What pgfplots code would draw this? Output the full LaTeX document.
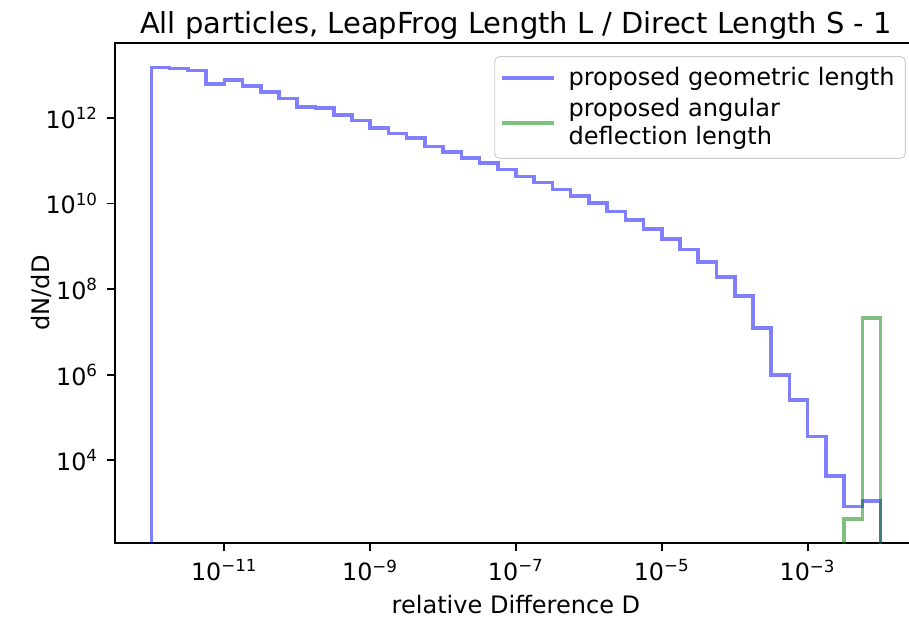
\documentclass[border=0pt]{standalone}
\usepackage{fontspec}
\setmainfont{DejaVu Sans}
\usepackage{pgfplots}
\pgfplotsset{compat=1.18}
\definecolor{mplblue}{rgb}{0,0,1}
\definecolor{mplgreen}{rgb}{0,0.5,0}
\begin{document}
\fontsize{10}{12}\selectfont
\begin{tikzpicture}
\begin{axis}[
  scale only axis,
  width=336.84pt, height=210pt,
  xmode=log, ymode=log,
  xmin=3.162e-13, xmax=3.162e-2,
  ymin=117.5, ymax=5.62e13,
  xtick={1e-11,1e-9,1e-7,1e-5,1e-3},
  xticklabels={10\textsuperscript{−11},10\textsuperscript{−9},10\textsuperscript{−7},10\textsuperscript{−5},10\textsuperscript{−3}},
  ytick={1e4,1e6,1e8,1e10,1e12},
  yticklabels={10\textsuperscript{4},10\textsuperscript{6},10\textsuperscript{8},10\textsuperscript{10},10\textsuperscript{12}},
  xminorticks=false, yminorticks=false,
  xtick pos=left, ytick pos=left,
  tick align=outside,
  major tick length=3.5pt,
  tick style={black, line width=0.8pt},
  axis line style={line width=0.8pt},
  ticklabel style={font=\fontsize{10}{12}\selectfont},
  title={All particles, LeapFrog Length L / Direct Length S - 1},
  every axis title/.style={at={(0.5,1)}, anchor=base, yshift=4.2pt, font=\fontsize{12.15}{14}\selectfont},
  xlabel={relative Difference D},
  every axis x label/.style={at={(0.5,0)}, anchor=base, yshift=-29.4pt, font=\fontsize{10.1}{12}\selectfont},
  ylabel={dN/dD},
  every axis y label/.style={at={(0,0.5)}, xshift=-27.7pt, rotate=90, anchor=base, font=\fontsize{10.1}{12}\selectfont},
  legend cell align=left,
  legend style={at={(1,1)}, anchor=north east, xshift=-4.7pt, yshift=-5.5pt,
    draw=black!20, rounded corners=2pt, fill=white, fill opacity=0.8, text opacity=1,
    inner xsep=2.5pt, inner ysep=2.5pt, row sep=0pt,
    font=\fontsize{10.1}{11.4}\selectfont,
    nodes={inner xsep=2pt},
    cells={align=left}},
  legend image code/.code={\draw[#1, line width=1.5pt] (0pt,0pt) -- (21.5pt,0pt); \path (25pt,0pt);},
]
\addplot[const plot mark left, draw=mplblue, draw opacity=0.5, line width=1.5pt, line join=miter] coordinates {
(1e-12,1) (1e-12,1.51e13) (1.778e-12,1.41e13) (3.162e-12,1.29e13) (5.623e-12,6.17e12)
(1e-11,7.59e12) (1.778e-11,5.62e12) (3.162e-11,4.07e12) (5.623e-11,2.82e12)
(1e-10,1.82e12) (1.778e-10,1.70e12) (3.162e-10,1.17e12) (5.623e-10,8.71e11)
(1e-9,5.89e11) (1.778e-9,4.37e11) (3.162e-9,3.39e11) (5.623e-9,2.14e11)
(1e-8,1.62e11) (1.778e-8,1.17e11) (3.162e-8,8.71e10) (5.623e-8,6.17e10)
(1e-7,4.27e10) (1.778e-7,3.09e10) (3.162e-7,2.14e10) (5.623e-7,1.51e10)
(1e-6,1.02e10) (1.778e-6,6.46e9) (3.162e-6,4.17e9) (5.623e-6,2.57e9)
(1e-5,1.48e9) (1.778e-5,8.51e8) (3.162e-5,4.37e8) (5.623e-5,1.95e8)
(1e-4,6.92e7) (1.778e-4,1.23e7) (3.162e-4,1.0e6) (5.623e-4,2.57e5)
(1e-3,3.63e4) (1.778e-3,4.37e3) (3.162e-3,8.32e2) (5.623e-3,1.12e3)
(1e-2,1.12e3) (1e-2,1)
};
\addlegendentry{proposed geometric length}
\addplot[const plot mark left, draw=mplgreen, draw opacity=0.5, line width=1.5pt, line join=miter] coordinates {
(3.162e-3,1) (3.162e-3,4.27e2) (5.623e-3,2.14e7) (1e-2,2.14e7) (1e-2,1)
};
\addlegendentry{proposed angular\\deflection length}
\end{axis}
\pgfresetboundingbox
\path (-48.3pt,-31.92pt) rectangle (333.48pt,228.06pt);
\end{tikzpicture}
\end{document}
